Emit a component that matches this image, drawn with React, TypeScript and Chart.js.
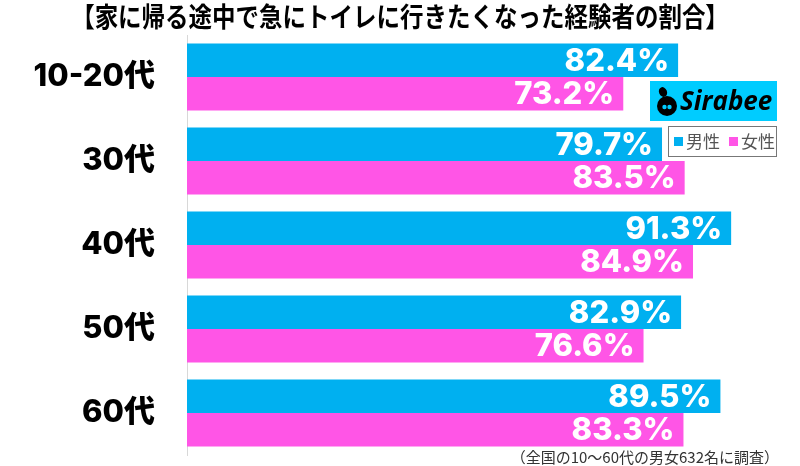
import React, { useEffect, useRef } from "react";
import { Chart, registerables } from "chart.js";

Chart.register(...registerables);

const categories = ["10-20代", "30代", "40代", "50代", "60代"];
const maleValues = [82.4, 79.7, 91.3, 82.9, 89.5];
const femaleValues = [73.2, 83.5, 84.9, 76.6, 83.3];
const seriesNames = ["男性", "女性"];
const titleText = "【家に帰る途中で急にトイレに行きたくなった経験者の割合】";
const noteText = "（全国の10～60代の男女632名に調査）";

const BLUE = "#00B0F0";
const PINK = "#FF55E6";

const overlayPlugin = {
  id: "overlay",
  afterDatasetsDraw(chart: any) {
    const ctx = chart.ctx;
    ctx.save();
    chart.data.datasets.forEach((ds: any, di: number) => {
      const meta = chart.getDatasetMeta(di);
      meta.data.forEach((bar: any, i: number) => {
        const v = ds.data[i];
        ctx.font = "800 31px Inter, 'DejaVu Sans', sans-serif";
        ctx.fillStyle = "#ffffff";
        ctx.textAlign = "right";
        ctx.textBaseline = "middle";
        ctx.fillText(v.toFixed(1) + "%", bar.x - 9, bar.y + 1);
      });
    });
    ctx.restore();
  },
  afterDraw(chart: any) {
    const ctx = chart.ctx;
    ctx.save();
    // title (slightly condensed)
    ctx.save();
    ctx.translate(400, 17);
    ctx.scale(0.87, 1);
    ctx.font = "bold 27px 'Noto Sans CJK JP', sans-serif";
    ctx.fillStyle = "#000";
    ctx.textAlign = "center";
    ctx.textBaseline = "middle";
    ctx.fillText(titleText, 0, 0);
    ctx.restore();

    // Sirabee logo box
    ctx.fillStyle = "#00CCFF";
    ctx.fillRect(650, 81, 127, 40);
    ctx.fillStyle = "#000";
    ctx.beginPath();
    ctx.arc(667, 106, 10, 0, Math.PI * 2);
    ctx.fill();
    ctx.beginPath();
    ctx.ellipse(663, 92, 4, 5, -0.4, 0, Math.PI * 2);
    ctx.fill();
    ctx.fillStyle = "#00CCFF";
    ctx.beginPath();
    ctx.arc(664.5, 107, 2.2, 0, Math.PI * 2);
    ctx.arc(669.5, 107, 2.2, 0, Math.PI * 2);
    ctx.fill();
    ctx.fillStyle = "#000";
    ctx.font = "italic bold 26px 'Open Sans', sans-serif";
    ctx.textAlign = "left";
    ctx.textBaseline = "middle";
    ctx.fillText("Sirabee", 680, 103);

    // legend box
    ctx.strokeStyle = "#777";
    ctx.lineWidth = 1;
    ctx.strokeRect(668.5, 126.5, 108, 30);
    ctx.font = "17px 'Noto Sans CJK JP', sans-serif";
    ctx.textBaseline = "middle";
    ctx.fillStyle = BLUE;
    ctx.fillRect(674, 137, 9, 9);
    ctx.fillStyle = "#555";
    ctx.fillText(seriesNames[0], 686, 142);
    ctx.fillStyle = PINK;
    ctx.fillRect(729, 137, 9, 9);
    ctx.fillStyle = "#555";
    ctx.fillText(seriesNames[1], 741, 142);

    // footnote
    ctx.font = "15px 'Noto Sans CJK JP', sans-serif";
    ctx.fillStyle = "#333";
    ctx.textAlign = "right";
    ctx.fillText(noteText, 779, 457);
    ctx.restore();
  },
};

export default function App() {
  const ref = useRef<HTMLCanvasElement>(null);
  useEffect(() => {
    if (!ref.current) return;
    const chart = new Chart(ref.current, {
      type: "bar",
      data: {
        labels: categories,
        datasets: [
          { label: seriesNames[0], data: maleValues, backgroundColor: BLUE, borderWidth: 0 },
          { label: seriesNames[1], data: femaleValues, backgroundColor: PINK, borderWidth: 0 },
        ],
      },
      options: {
        indexAxis: "y",
        animation: false,
        responsive: false,
        maintainAspectRatio: false,
        layout: { padding: { top: 35, bottom: 11, right: 17, left: 0 } },
        plugins: { legend: { display: false }, title: { display: false }, tooltip: { enabled: false } },
        scales: {
          x: { display: false, min: 0, max: 100 },
          y: {
            grid: { display: false, drawTicks: false },
            border: { display: true, color: "#d8d8d8", width: 1 },
            ticks: {
              color: "#000",
              padding: 32,
              font: { size: 31, weight: "800", family: "Inter, 'Noto Sans CJK JP', sans-serif" },
            },
            afterFit(scale: any) {
              scale.width = 187;
              scale.paddingTop = 0;
              scale.paddingBottom = 0;
            },
          },
        },
        datasets: { bar: { categoryPercentage: 0.8, barPercentage: 1 } },
      } as any,
      plugins: [overlayPlugin],
    });
    return () => chart.destroy();
  }, []);
  return (
    <div style={{ position: "fixed", left: 0, top: 0, width: 800, height: 466, background: "#fff" }}>
      <canvas ref={ref} width={800} height={466} style={{ width: 800, height: 466 }} />
    </div>
  );
}
